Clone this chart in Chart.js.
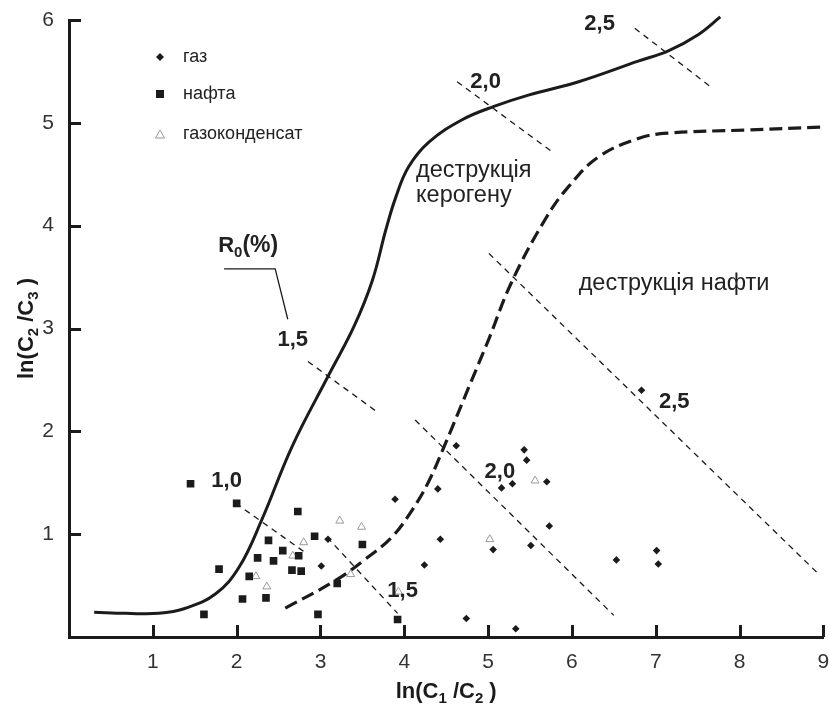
<!DOCTYPE html>
<html lang="uk">
<head>
<meta charset="utf-8">
<title>ln(C1/C2) – ln(C2/C3)</title>
<script src="https://cdn.jsdelivr.net/npm/chart.js@4.4.1/dist/chart.umd.min.js"></script>
<style>
  html, body { margin: 0; padding: 0; background: #fff; }
  #wrap { width: 829px; height: 706px; }
</style>
</head>
<body>
<div id="wrap"><canvas id="chart" width="829" height="706"></canvas></div>
<script>
// --- дані ---
const xTickValues = [1, 2, 3, 4, 5, 6, 7, 8, 9];
const xTickLabels = ['1', '2', '3', '4', '5', '6', '7', '8', '9'];
const yTickValues = [1, 2, 3, 4, 5, 6];
const yTickLabels = ['1', '2', '3', '4', '5', '6'];

// газ (ромби)
const gas = [
    [3.09, 0.95], [3.01, 0.69], [4.62, 1.86], [5.43, 1.82], [5.46, 1.72], [5.70, 1.51],
    [5.16, 1.45], [5.29, 1.49], [4.40, 1.44], [3.89, 1.34], [5.73, 1.08], [4.43, 0.95],
    [5.06, 0.85], [5.51, 0.89], [4.24, 0.70], [4.74, 0.18], [5.33, 0.08], [6.83, 2.40],
    [6.53, 0.75], [7.01, 0.84], [7.03, 0.71]
];
// нафта (квадрати)
const oil = [
    [1.45, 1.49], [2.00, 1.30], [2.73, 1.22], [2.38, 0.94], [2.55, 0.84], [2.93, 0.98],
    [2.25, 0.77], [2.44, 0.74], [2.74, 0.79], [1.79, 0.66], [2.15, 0.59], [2.66, 0.65],
    [2.77, 0.64], [3.20, 0.52], [2.07, 0.37], [2.35, 0.38], [1.61, 0.22], [2.97, 0.22],
    [3.50, 0.90], [3.92, 0.17]
];
// газоконденсат (трикутники)
const condensate = [
    [3.23, 1.13], [2.80, 0.92], [2.67, 0.79], [2.23, 0.59], [2.36, 0.49], [3.36, 0.61],
    [3.49, 1.07], [5.56, 1.52], [5.02, 0.95], [3.93, 0.44]
];

// межі зон
const kerogenCurve = [
    [0.30, 0.24], [0.68, 0.23], [1.07, 0.23], [1.39, 0.28], [1.75, 0.42], [2.03, 0.68],
    [2.30, 1.14], [2.66, 1.85], [3.10, 2.55], [3.40, 3.02], [3.62, 3.47], [3.78, 3.96],
    [3.90, 4.28], [4.05, 4.57], [4.29, 4.81], [4.69, 5.03], [5.07, 5.16], [5.48, 5.27],
    [6.08, 5.40], [6.79, 5.60], [7.15, 5.70], [7.51, 5.86], [7.77, 6.03]
];
const oilCurve = [
    [2.58, 0.28], [3.18, 0.55], [3.54, 0.76], [3.85, 0.97], [4.09, 1.23], [4.29, 1.51],
    [4.50, 1.90], [4.77, 2.43], [5.01, 2.90], [5.28, 3.45], [5.68, 4.06], [5.96, 4.38],
    [6.32, 4.67], [6.80, 4.85], [7.15, 4.90], [8.07, 4.93], [9.00, 4.96]
];

// ізолінії R0
const ro10 = [[1.99, 1.30], [2.82, 0.82]];
const ro15Low = [[3.08, 0.97], [3.92, 0.23]];
const ro15High = [[2.85, 2.68], [3.69, 2.18]];
const ro20High = [[4.63, 5.40], [5.76, 4.72]];
const ro25High = [[6.75, 5.92], [7.67, 5.34]];
const ro20Low = [[4.13, 2.11], [6.50, 0.21]];
const ro25Low = [[5.01, 3.73], [8.92, 0.63]];
const roLeader = [[1.85, 3.58], [2.46, 3.58], [2.61, 3.09]];

// підписи ізоліній та зон (координати в одиницях осей)
const roLabels = [
    ['1,0', 1.88, 1.52], ['1,5', 2.67, 2.89], ['2,0', 4.97, 5.40], ['2,5', 6.33, 5.96],
    ['2,0', 5.14, 1.61], ['2,5', 7.22, 2.29], ['1,5', 3.98, 0.45]
];
const zoneLabels = [
    ['деструкція', 4.14, 4.54], ['керогену', 4.14, 4.29], ['деструкція нафти', 6.08, 3.44]
];

const fontFamily = '"Liberation Sans", Arial, Helvetica, sans-serif';
const ink = '#1b1b1b';
const pts = arr => arr.map(([x, y]) => ({ x, y }));

function lineSet(data, width, dash, extra = {}) {
    return Object.assign({
        type: 'scatter',
        data: pts(data),
        showLine: true,
        pointRadius: 0,
        borderColor: ink,
        borderWidth: width,
        borderDash: dash,
        fill: false
    }, extra);
}

function drawParts(ctx, parts, x, y, align) {
    let w = 0;
    parts.forEach(p => { ctx.font = `bold ${p[1]}px ${fontFamily}`; w += ctx.measureText(p[0]).width; });
    let cx = align === 'center' ? x - w / 2 : x;
    parts.forEach(p => {
        ctx.font = `bold ${p[1]}px ${fontFamily}`;
        ctx.fillText(p[0], cx, y + p[2]);
        cx += ctx.measureText(p[0]).width;
    });
}

// --- засічки всередину, легенда, підписи ---
const decorPlugin = {
    id: 'decor',
    afterDraw(chart) {
        const { ctx, chartArea: a, scales: { x, y } } = chart;
        ctx.save();

        ctx.strokeStyle = ink;
        ctx.lineWidth = 3;
        ctx.beginPath();
        xTickValues.forEach(v => {
            const px = Math.round(x.getPixelForValue(v)) + 0.5;
            ctx.moveTo(px, a.bottom);
            ctx.lineTo(px, a.bottom - 12);
        });
        yTickValues.forEach(v => {
            const py = Math.round(y.getPixelForValue(v)) + 0.5;
            ctx.moveTo(a.left, py);
            ctx.lineTo(a.left + 12, py);
        });
        ctx.stroke();

        // легенда
        const lx = a.left + 91;
        ctx.fillStyle = ink;
        ctx.beginPath();
        ctx.moveTo(lx, 57 - 4); ctx.lineTo(lx + 4, 57); ctx.lineTo(lx, 57 + 4); ctx.lineTo(lx - 4, 57);
        ctx.closePath(); ctx.fill();
        ctx.fillRect(lx - 4, 94 - 4, 8, 8);
        ctx.strokeStyle = '#9a9a9a';
        ctx.lineWidth = 1;
        ctx.beginPath();
        ctx.moveTo(lx, 130); ctx.lineTo(lx + 4.5, 138); ctx.lineTo(lx - 4.5, 138);
        ctx.closePath(); ctx.stroke();

        ctx.fillStyle = '#222';
        ctx.font = `18px ${fontFamily}`;
        ctx.textAlign = 'left';
        ctx.textBaseline = 'middle';
        ctx.fillText('газ', lx + 23, 57);
        ctx.fillText('нафта', lx + 23, 94);
        ctx.fillText('газоконденсат', lx + 23, 134);

        // підписи R0
        ctx.textAlign = 'center';
        ctx.font = `bold 22px ${fontFamily}`;
        roLabels.forEach(([t, vx, vy]) => {
            ctx.fillText(t, x.getPixelForValue(vx), y.getPixelForValue(vy));
        });

        // зони
        ctx.textAlign = 'left';
        ctx.font = `23.5px ${fontFamily}`;
        zoneLabels.forEach(([t, vx, vy]) => {
            ctx.fillText(t, x.getPixelForValue(vx), y.getPixelForValue(vy));
        });

        // R0(%)
        ctx.textBaseline = 'alphabetic';
        drawParts(ctx, [['R', 22, 0], ['0', 15, 5], ['(%)', 23, 0]],
            x.getPixelForValue(1.78), y.getPixelForValue(3.82) + 8, 'left');

        // назви осей
        ctx.fillStyle = ink;
        drawParts(ctx, [['ln(C', 22, 0], ['1', 15, 5], [' /C', 22, 0], ['2', 15, 5], [' )', 22, 0]],
            (a.left + a.right) / 2, 698, 'center');
        ctx.translate(25, (a.top + a.bottom) / 2);
        ctx.rotate(-Math.PI / 2);
        drawParts(ctx, [['ln(C', 22, 0], ['2', 15, 5], [' /C', 22, 0], ['3', 15, 5], [' )', 22, 0]],
            0, 8, 'center');

        ctx.restore();
    }
};

new Chart(document.getElementById('chart'), {
    type: 'scatter',
    data: {
        datasets: [
            {
                label: 'газ', data: pts(gas), pointStyle: 'rectRot', pointRadius: 3.8,
                pointBackgroundColor: ink, pointBorderColor: ink, pointBorderWidth: 0
            },
            {
                label: 'нафта', data: pts(oil), pointStyle: 'rect', pointRadius: 5.4,
                pointBackgroundColor: ink, pointBorderColor: ink, pointBorderWidth: 0
            },
            {
                label: 'газоконденсат', data: pts(condensate), pointStyle: 'triangle', pointRadius: 4.6,
                pointBackgroundColor: '#fff', pointBorderColor: '#9a9a9a', pointBorderWidth: 1
            },
            lineSet(kerogenCurve, 3, [], { tension: 0.4, clip: false }),
            lineSet(oilCurve, 3.2, [13, 6], { tension: 0.4 }),
            lineSet(ro10, 1.3, [6, 5]),
            lineSet(ro15Low, 1.3, [6, 5]),
            lineSet(ro15High, 1.3, [6, 5]),
            lineSet(ro20High, 1.3, [6, 5]),
            lineSet(ro25High, 1.3, [6, 5]),
            lineSet(ro20Low, 1.3, [6, 5]),
            lineSet(ro25Low, 1.3, [6, 5]),
            lineSet(roLeader, 1.3, [])
        ]
    },
    options: {
        responsive: false,
        animation: false,
        layout: { padding: { top: 20, right: 4, left: 0, bottom: 0 } },
        plugins: { legend: { display: false }, tooltip: { enabled: false } },
        scales: {
            x: {
                type: 'linear', min: 0, max: 9,
                afterFit: s => { s.height = 69; s.paddingLeft = 0; s.paddingRight = 0; },
                grid: { display: false },
                border: { display: true, color: ink, width: 3 },
                ticks: {
                    stepSize: 1, autoSkip: false, maxRotation: 0, padding: 5, color: '#333',
                    font: { family: fontFamily, size: 21 },
                    callback: v => { const i = xTickValues.indexOf(v); return i >= 0 ? xTickLabels[i] : ''; }
                }
            },
            y: {
                type: 'linear', min: 0, max: 6,
                afterFit: s => { s.width = 69; s.paddingTop = 0; s.paddingBottom = 0; },
                grid: { display: false },
                border: { display: true, color: ink, width: 3 },
                ticks: {
                    stepSize: 1, autoSkip: false, padding: 7, color: '#333',
                    font: { family: fontFamily, size: 21 },
                    callback: v => { const i = yTickValues.indexOf(v); return i >= 0 ? yTickLabels[i] : ''; }
                }
            }
        }
    },
    plugins: [decorPlugin]
});
</script>
</body>
</html>
